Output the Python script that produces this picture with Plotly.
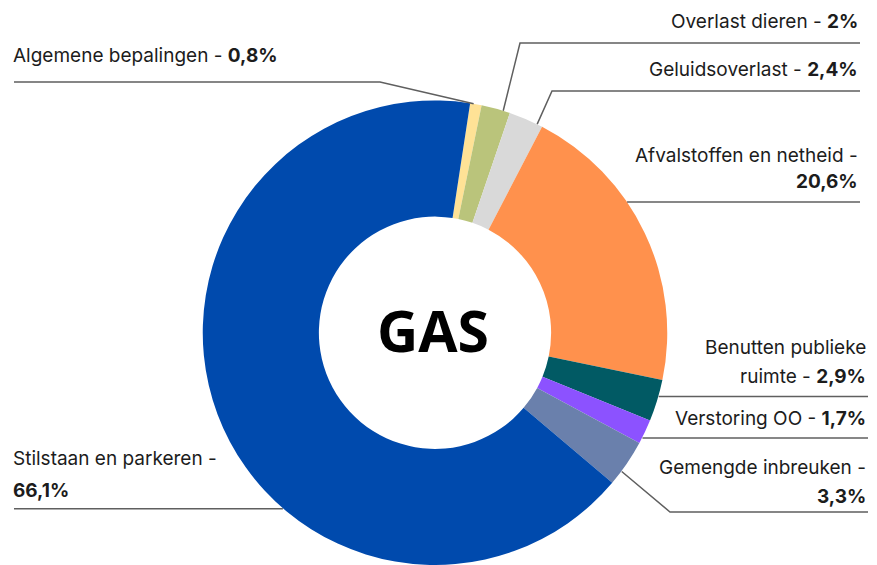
import math
import plotly.graph_objects as go

# --- data ---
categories = [
    "Algemene bepalingen",
    "Overlast dieren",
    "Geluidsoverlast",
    "Afvalstoffen en netheid",
    "Benutten publieke ruimte",
    "Verstoring OO",
    "Gemengde inbreuken",
    "Stilstaan en parkeren",
]
values = [0.8, 2.0, 2.4, 20.6, 2.9, 1.7, 3.3, 66.1]
value_labels = ["0,8%", "2%", "2,4%", "20,6%", "2,9%", "1,7%", "3,3%", "66,1%"]
center_text = "GAS"

colors = ["#FFE296", "#BAC47B", "#D9D9D9", "#FF914D",
          "#015A64", "#8C52FF", "#6A80AC", "#004AAD"]

W, H = 877, 565
CX, CY, R = 435, 333, 232.5   # pie centre / radius in pixels
ROTATION = 8.7

LABEL_FONT = dict(family="Inter, Roboto, sans-serif", size=19, color="#1c1c1c")
LINE_COLOR = "#5f5f5f"


def px(x):
    return x / W


def py(y):
    return 1 - y / H


# label layout: text lines (pixel y), text anchor x/side,
# where on the slice the leader starts (fraction of the slice), and the path after it
label_layout = [
    dict(x=11, side="left", lines=[("{c} - <b>{v}</b>", 55)], frac=0.3, path=[(380, 82), (14, 82)]),
    dict(x=860, side="right", lines=[("{c} - <b>{v}</b>", 22)], frac=0.76, path=[(520, 43), (860, 43)]),
    dict(x=860, side="right", lines=[("{c} - <b>{v}</b>", 69)], frac=0.84, path=[(552, 91), (860, 91)]),
    dict(x=860, side="right", lines=[("{c} -", 155), ("<b>{v}</b>", 182)], frac=0.38, path=[(860, None)]),
    dict(x=868, side="right", lines=[("Benutten publieke", 347), ("ruimte - <b>{v}</b>", 376)], frac=0.39, path=[(868, None)]),
    dict(x=868, side="right", lines=[("{c} - <b>{v}</b>", 418)], frac=0.75, path=[(868, None)]),
    dict(x=868, side="right", lines=[("{c} -", 467), ("<b>{v}</b>", 497)], frac=0.69, path=[(670, 512), (868, 512)]),
    dict(x=11, side="left", lines=[("{c} -", 458), ("<b>{v}</b>", 490)], frac=0.38, path=[(14, None)]),
]

fig = go.Figure()
fig.add_trace(go.Pie(
    labels=categories,
    values=values,
    hole=0.5,
    sort=False,
    direction="clockwise",
    rotation=ROTATION,
    marker=dict(colors=colors, line=dict(width=0)),
    textinfo="none",
    hoverinfo="label+percent",
    showlegend=False,
    domain=dict(x=[px(CX - R), px(CX + R)], y=[max(0, py(CY + R)), py(CY - R)]),
))

total = sum(values)
cum = 0.0
annotations = []
shapes = []
for cat, val, vlab, lay in zip(categories, values, value_labels, label_layout):
    ang = math.radians(ROTATION + 360 * (cum + lay["frac"] * val) / total)
    cum += val
    ax = CX + R * math.sin(ang)
    ay = CY - R * math.cos(ang)
    pts = [(ax, ay)]
    for (x, y) in lay["path"]:
        pts.append((x, ay if y is None else y))
    d = "M " + " L ".join(f"{px(x):.5f},{py(y):.5f}" for x, y in pts)
    shapes.append(dict(type="path", path=d, xref="paper", yref="paper",
                       line=dict(color=LINE_COLOR, width=1.5)))
    for txt, y in lay["lines"]:
        annotations.append(dict(
            text=txt.format(c=cat, v=vlab), x=px(lay["x"]), y=py(y),
            xref="paper", yref="paper", xanchor=lay["side"], yanchor="middle",
            showarrow=False, font=LABEL_FONT,
        ))

annotations.append(dict(
    text=f"<b>{center_text}</b>", x=px(433), y=py(330), xref="paper", yref="paper",
    xanchor="center", yanchor="middle", showarrow=False,
    font=dict(family="Open Sans, Noto Sans, sans-serif", size=57, color="black"),
))

fig.update_layout(
    width=W, height=H,
    margin=dict(l=0, r=0, t=0, b=0),
    paper_bgcolor="white",
    plot_bgcolor="white",
    annotations=annotations,
    shapes=shapes,
)

fig.write_html("out.html", config={"displayModeBar": False},
               post_script="document.body.style.margin='0';document.body.style.overflow='hidden';")
